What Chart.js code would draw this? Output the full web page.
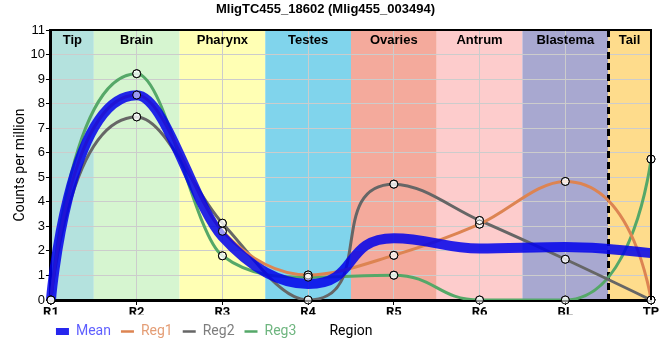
<!DOCTYPE html>
<html>
<head>
<meta charset="utf-8">
<script src="https://cdn.jsdelivr.net/npm/chart.js@4/dist/chart.umd.min.js"></script>
<style>
html,body{margin:0;padding:0;background:#ffffff;}
#wrap{width:660px;height:360px;}
</style>
</head>
<body>
<div id="wrap"><canvas id="c" width="660" height="360"></canvas></div>
<script>
// ---- data ----
const categories = ['R1', 'R2', 'R3', 'R4', 'R5', 'R6', 'BL', 'TP'];
const meanValues = [0, 8.34, 2.58, 0.65, 2.52, 2.1, 2.16, 1.91];
const reg1Values = [0, 8.35, 2.8, 1.02, 1.82, 3.09, 4.83, 0];
const reg2Values = [0, 7.46, 3.13, 0, 4.72, 3.24, 1.66, 0];
const reg3Values = [0, 9.22, 1.8, 0.93, 1.01, 0, 0, 5.74];
const yTickValues = [0, 1, 2, 3, 4, 5, 6, 7, 8, 9, 10, 11];
const seriesNames = ['Mean', 'Reg1', 'Reg2', 'Reg3'];
const regionNames = ['Tip', 'Brain', 'Pharynx', 'Testes', 'Ovaries', 'Antrum', 'Blastema', 'Tail'];
const regionStart = [0, 0.5, 1.5, 2.5, 3.5, 4.5, 5.5, 6.5];
const regionEnd = [0.5, 1.5, 2.5, 3.5, 4.5, 5.5, 6.5, 7];
const dividerPositions = [6.5];

// ---- styles ----
const regionColors = ['#b4e2de', '#d6f5d0', '#ffffb4', '#80d4ec', '#f4aa9c', '#fdcccc', '#a8a8d0', '#fedc8c'];
const lineColors = ['rgba(0,0,235,0.85)', '#dd8452', '#666666', '#55a868'];
const legendTextColors = ['rgba(40,40,255,0.75)', 'rgba(221,132,82,0.8)', 'rgba(102,102,102,0.85)', 'rgba(85,168,104,0.85)'];
const legendLineWidths = [7, 2.5, 2.5, 2.5];

function pointKind(pts, i) {
  const n = pts.length;
  if (i === 0 || i === n - 1) return {kind: 'end', m: 0};
  const a = (pts[i].y - pts[i - 1].y) / (pts[i].x - pts[i - 1].x);
  const b = (pts[i + 1].y - pts[i].y) / (pts[i + 1].x - pts[i].x);
  if (Math.abs(a) < 1e-9 || Math.abs(b) < 1e-9 || (a > 0) !== (b > 0)) return {kind: 'flat', m: 0};
  let m = (a + b) / 2;
  const al = m / a, be = m / b, tau = al * al + be * be;
  if (tau > 9) m = (3 / Math.sqrt(tau)) * m;
  return {kind: 'slope', m};
}

const backgroundPlugin = {
  id: 'regionBands',
  beforeDraw(chart) {
    const {ctx, chartArea: a, scales: {x}} = chart;
    ctx.save();
    regionNames.forEach((name, i) => {
      const x0 = x.getPixelForValue(regionStart[i]);
      const x1 = x.getPixelForValue(regionEnd[i]);
      ctx.fillStyle = regionColors[i];
      ctx.fillRect(x0, a.top, x1 - x0, a.bottom - a.top);
    });
    ctx.restore();
  },
  beforeDatasetsDraw(chart) {
    const {ctx, chartArea: a, scales: {x}} = chart;
    ctx.save();
    ctx.font = 'bold 13px "Liberation Sans", Arial, sans-serif';
    ctx.fillStyle = '#000';
    ctx.textAlign = 'center';
    ctx.textBaseline = 'middle';
    regionNames.forEach((name, i) => {
      const cx = (x.getPixelForValue(regionStart[i]) + x.getPixelForValue(regionEnd[i])) / 2;
      ctx.fillText(name, cx, a.top + 10);
    });
    ctx.strokeStyle = '#000';
    ctx.lineWidth = 3;
    ctx.setLineDash([7, 4]);
    dividerPositions.forEach(v => {
      const px = Math.round(x.getPixelForValue(v)) + 0.5;
      ctx.beginPath();
      ctx.moveTo(px, a.top);
      ctx.lineTo(px, a.bottom + 5);
      ctx.stroke();
    });
    ctx.restore();

    // bezier handles: flat at extrema, long between flat/end points, Hermite otherwise
    chart.data.datasets.forEach((ds, di) => {
      const meta = chart.getDatasetMeta(di);
      if (!meta || meta.hidden) return;
      const pts = meta.data;
      meta.dataset.updateControlPoints(chart.chartArea, 'x');
      const n = pts.length;
      const info = pts.map((p, i) => pointKind(pts, i));
      pts.forEach(p => { p.cp1x = p.x; p.cp1y = p.y; p.cp2x = p.x; p.cp2y = p.y; });
      for (let i = 0; i < n - 1; i++) {
        const A = pts[i], B = pts[i + 1], iA = info[i], iB = info[i + 1];
        const dx = B.x - A.x, dy = B.y - A.y;
        const longK = Math.min(0.8, 1 / 3 + 0.5 * Math.abs(dy) / dx);
        const kFor = (me, other) => {
          if (me.kind === 'end') return 0;
          if (me.kind === 'slope') return 1 / 3;
          return other.kind === 'slope' ? 1 / 3 : longK;
        };
        const kA = kFor(iA, iB), kB = kFor(iB, iA);
        let hyA = kA * dx * iA.m, hyB = kB * dx * iB.m;
        if (Math.abs(hyA) > Math.abs(dy)) hyA = Math.sign(hyA) * Math.abs(dy);
        if (Math.abs(hyB) > Math.abs(dy)) hyB = Math.sign(hyB) * Math.abs(dy);
        A.cp2x = A.x + kA * dx; A.cp2y = A.y + hyA;
        B.cp1x = B.x - kB * dx; B.cp1y = B.y - hyB;
      }
    });
  },
  afterDatasetsDraw(chart) {
    const {ctx, chartArea: a} = chart;
    chart.data.datasets.forEach((ds, di) => {
      if (di === 0) return;
      const meta = chart.getDatasetMeta(di);
      meta.data.forEach(pt => pt.draw(ctx, a));
    });
    ctx.save();
    ctx.strokeStyle = '#000';
    ctx.lineWidth = 2;
    ctx.beginPath();
    ctx.moveTo(a.left, a.top);
    ctx.lineTo(a.right, a.top);
    ctx.lineTo(a.right, a.bottom);
    ctx.stroke();
    ctx.restore();
  },
  afterLayout(chart) {
    if (chart.legend) { chart.legend.left -= 5; chart.legend.right -= 5; }
  }
};

const seriesData = [meanValues, reg1Values, reg2Values, reg3Values];
const datasets = seriesData.map((vals, i) => ({
  label: seriesNames[i],
  data: vals,
  borderColor: lineColors[i],
  backgroundColor: lineColors[i],
  borderWidth: i === 0 ? 10 : 3,
  tension: 0.4,
  fill: false,
  order: i === 0 ? 0 : 1,
  pointRadius: i === 0 ? 0 : 4,
  pointBorderColor: '#000',
  pointBorderWidth: 1,
  pointBackgroundColor: 'rgba(255,255,255,0.55)',
  borderCapStyle: 'butt'
}));

new Chart(document.getElementById('c'), {
  type: 'line',
  data: {labels: categories, datasets},
  plugins: [backgroundPlugin],
  options: {
    responsive: false,
    animation: false,
    devicePixelRatio: 1,
    layout: {padding: {left: 0, right: 9, top: 0, bottom: 11.6}},
    plugins: {
      title: {
        display: true,
        text: 'MligTC455_18602 (Mlig455_003494)',
        color: '#000',
        font: {family: '"Liberation Sans", Arial, sans-serif', size: 13, weight: 'bold'},
        padding: {top: 2, bottom: 12.4}
      },
      legend: {
        position: 'bottom',
        align: 'start',
        fullSize: false,
        labels: {
          usePointStyle: true,
          pointStyleWidth: 13,
          padding: 10,
          font: {family: 'Roboto, sans-serif', size: 14},
          generateLabels(chart) {
            return chart.data.datasets.map((ds, i) => ({
              text: ds.label,
              fillStyle: lineColors[i],
              strokeStyle: lineColors[i],
              lineWidth: legendLineWidths[i],
              pointStyle: 'line',
              fontColor: legendTextColors[i],
              hidden: false,
              datasetIndex: i
            }));
          }
        }
      },
      tooltip: {enabled: false}
    },
    scales: {
      x: {
        type: 'category',
        offset: false,
        grid: {color: '#cccccc', tickColor: '#000', tickLength: 5, lineWidth: 1},
        border: {color: '#000', width: 3},
        ticks: {color: '#000', padding: 0, autoSkip: false, maxRotation: 0,
          font: {family: 'Roboto, sans-serif', size: 13, weight: 'bold'}},
        title: {display: true, text: 'Region', color: '#000',
          font: {family: 'Roboto, sans-serif', size: 14},
          padding: {top: 2, bottom: -25}}
      },
      y: {
        min: 0,
        max: 11,
        afterBuildTicks(scale) { scale.ticks = yTickValues.map(v => ({value: v})); },
        grid: {color: '#cccccc', tickColor: '#000', tickLength: 5, lineWidth: 1},
        border: {color: '#000', width: 3},
        ticks: {color: '#000', padding: 1,
          font: {family: '"Liberation Sans", Arial, sans-serif', size: 13}},
        title: {display: true, text: 'Counts per million', color: '#000',
          font: {family: 'Roboto, sans-serif', size: 14},
          padding: {top: 11.7, bottom: 1}}
      }
    }
  }
});
</script>
</body>
</html>
